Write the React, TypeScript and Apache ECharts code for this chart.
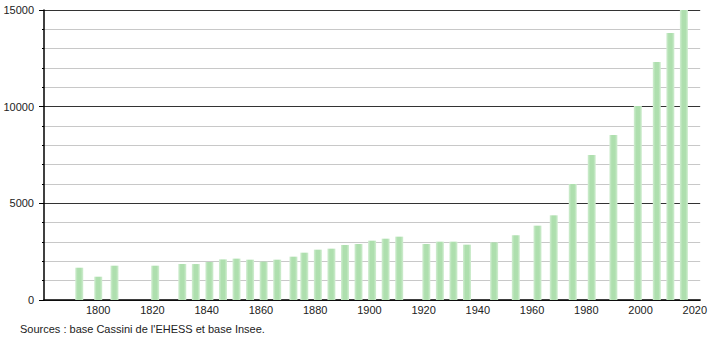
import React, { useEffect, useRef } from "react";
import * as echarts from "echarts";

const years = [1793, 1800, 1806, 1821, 1831, 1836, 1841, 1846, 1851, 1856, 1861, 1866, 1872, 1876, 1881, 1886, 1891, 1896, 1901, 1906, 1911, 1921, 1926, 1931, 1936, 1946, 1954, 1962, 1968, 1975, 1982, 1990, 1999, 2006, 2011, 2016];
const population = [1670, 1205, 1775, 1775, 1862, 1860, 1966, 2100, 2140, 2086, 1983, 2086, 2241, 2448, 2603, 2655, 2845, 2897, 3069, 3172, 3276, 2897, 3017, 3017, 2862, 2983, 3345, 3845, 4380, 6000, 7500, 8535, 10035, 12310, 13810, 15000];
const xTickLabels = [1800, 1820, 1840, 1860, 1880, 1900, 1920, 1940, 1960, 1980, 2000, 2020];
const sourceText = "Sources : base Cassini de l'EHESS et base Insee.";

export default function App() {
  const ref = useRef<HTMLDivElement>(null);
  useEffect(() => {
    if (!ref.current) return;
    const chart = echarts.init(ref.current, null, { renderer: "svg" });
    const font = "'Liberation Sans', Arial, sans-serif";
    chart.setOption({
      animation: false,
      textStyle: { fontFamily: font },
      grid: { left: 44, right: 9, top: 10, bottom: 40, containLabel: false },
      xAxis: {
        type: "value",
        min: 1780,
        max: 2022,
        interval: 20,
        axisLine: { show: true, lineStyle: { color: "#000", width: 1.5 } },
        axisTick: { show: false },
        splitLine: { show: false },
        axisLabel: {
          color: "#222",
          fontSize: 11,
          fontFamily: font,
          margin: 4,
          formatter: (v: number) => (xTickLabels.includes(v) ? String(v) : ""),
        },
      },
      yAxis: {
        type: "value",
        min: 0,
        max: 15000,
        interval: 5000,
        axisLine: { show: true, lineStyle: { color: "#000", width: 1.5 } },
        axisTick: { show: true, length: 5, lineStyle: { color: "#000" } },
        minorTick: { show: true, splitNumber: 5, length: 2, lineStyle: { color: "#000" } },
        splitLine: { show: true, lineStyle: { color: "#333", width: 1 } },
        minorSplitLine: { show: true, lineStyle: { color: "#c8c8c8", width: 1 } },
        axisLabel: {
          color: "#222",
          fontSize: 11,
          fontFamily: font,
          margin: 10,
          formatter: (v: number) => String(v),
        },
      },
      series: [
        {
          type: "bar",
          barWidth: 8,
          data: years.map((y, i) => [y, population[i]]),
          itemStyle: {
            color: new echarts.graphic.LinearGradient(0, 0, 1, 0, [
              { offset: 0, color: "#d2eed2" },
              { offset: 0.3, color: "#aedfae" },
              { offset: 0.7, color: "#aedfae" },
              { offset: 1, color: "#d2eed2" },
            ]),
          },
          z: 1,
        },
      ],
      graphic: [
        {
          type: "text",
          left: 20,
          top: 323,
          style: { text: sourceText, fill: "#222", fontSize: 11, fontFamily: font },
        },
      ],
    });
    return () => chart.dispose();
  }, []);
  return <div ref={ref} style={{ position: "absolute", left: 0, top: 0, width: 710, height: 340 }} />;
}
